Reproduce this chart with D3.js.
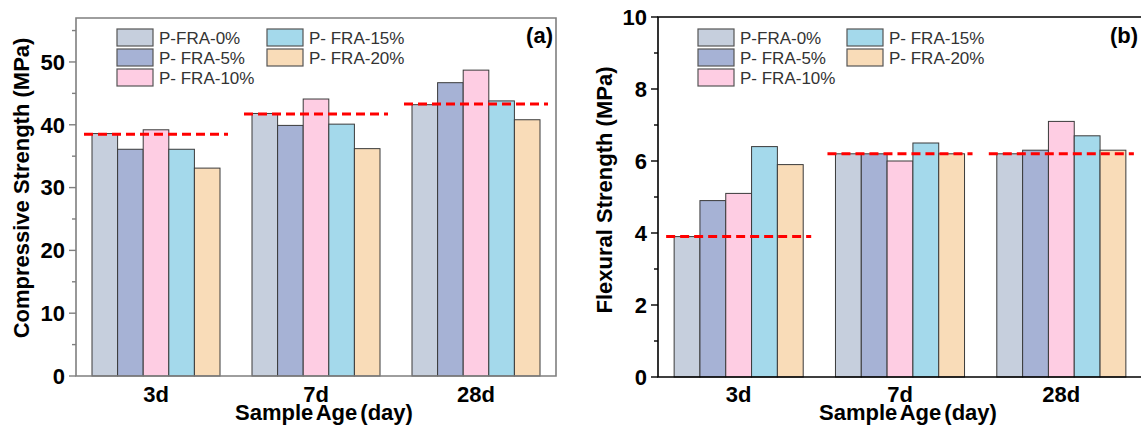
<!DOCTYPE html>
<html>
<head>
<meta charset="utf-8">
<script src="https://cdn.jsdelivr.net/npm/d3@7"></script>
<style>
  body { margin: 0; background: #fff; }
  svg text { font-family: Arial, "Liberation Sans", sans-serif; }
</style>
</head>
<body>
<div id="chart"></div>
<script>
// data
var ages = ["3d", "7d", "28d"];
var seriesNames = ["P-FRA-0%", "P- FRA-5%", "P- FRA-10%", "P- FRA-15%", "P- FRA-20%"];
var seriesColors = ["#c6cfdd", "#a6b2d5", "#fecde3", "#a4d9eb", "#f9dcb8"];

// compressive strength (MPa), one array per series, in age order
var compFRA0 = [38.6, 41.8, 43.2];
var compFRA5 = [36.1, 39.9, 46.7];
var compFRA10 = [39.2, 44.1, 48.7];
var compFRA15 = [36.1, 40.1, 43.8];
var compFRA20 = [33.1, 36.2, 40.8];
var compRef = [38.5, 41.7, 43.3];

// flexural strength (MPa)
var flexFRA0 = [3.9, 6.2, 6.2];
var flexFRA5 = [4.9, 6.2, 6.3];
var flexFRA10 = [5.1, 6.0, 7.1];
var flexFRA15 = [6.4, 6.5, 6.7];
var flexFRA20 = [5.9, 6.2, 6.3];
var flexRef = [3.9, 6.2, 6.2];

var compTicks = [0, 10, 20, 30, 40, 50];
var flexTicks = [0, 2, 4, 6, 8, 10];

var svg = d3.select("#chart")
  .append("svg")
  .attr("width", 1141)
  .attr("height", 429);

function drawPanel(opt) {
  var x0 = opt.left, x1 = opt.right, yTop = opt.top, yBot = opt.bottom;

  var xScale = d3.scaleBand()
    .domain(ages)
    .range([x0, x1])
    .paddingInner(0.2)
    .paddingOuter(0.1);

  var xSub = d3.scaleBand()
    .domain(seriesNames)
    .range([0, xScale.bandwidth()]);

  var yScale = d3.scaleLinear()
    .domain(opt.domain)
    .range([yBot, yTop]);

  var g = svg.append("g");

  // bars
  var groups = g.selectAll(".grp")
    .data(ages)
    .enter()
    .append("g")
    .attr("transform", d => `translate(${xScale(d)},0)`);

  groups.selectAll("rect")
    .data((d, i) => seriesNames.map((s, j) => ({ name: s, value: opt.values[j][i], idx: j })))
    .enter()
    .append("rect")
    .attr("x", d => xSub(d.name))
    .attr("y", d => yScale(d.value))
    .attr("width", xSub.bandwidth())
    .attr("height", d => yBot - yScale(d.value))
    .attr("fill", d => seriesColors[d.idx])
    .attr("stroke", "#3a3a3a")
    .attr("stroke-width", 1);

  // red dashed reference lines
  g.selectAll(".ref")
    .data(ages)
    .enter()
    .append("line")
    .attr("x1", d => xScale(d) - 8)
    .attr("x2", d => xScale(d) + xScale.bandwidth() + 8)
    .attr("y1", (d, i) => yScale(opt.ref[i]))
    .attr("y2", (d, i) => yScale(opt.ref[i]))
    .attr("stroke", "#ff0000")
    .attr("stroke-width", 3)
    .attr("stroke-dasharray", "9,5");

  // frame
  g.append("path")
    .attr("d", `M${x0},${yBot}V${yTop}H${x1}V${yBot}Z`)
    .attr("fill", "none")
    .attr("stroke", opt.frameColor)
    .attr("stroke-width", 1.6);

  // y axis ticks
  var minor = d3.range(opt.domain[0], opt.domain[1] + 0.001, opt.minorStep)
    .filter(v => opt.ticks.indexOf(v) < 0);
  g.selectAll(".minor")
    .data(minor)
    .enter()
    .append("line")
    .attr("x1", x0 - 4).attr("x2", x0)
    .attr("y1", d => yScale(d)).attr("y2", d => yScale(d))
    .attr("stroke", opt.frameColor)
    .attr("stroke-width", 1.4);

  g.selectAll(".major")
    .data(opt.ticks)
    .enter()
    .append("line")
    .attr("x1", x0 - 7).attr("x2", x0)
    .attr("y1", d => yScale(d)).attr("y2", d => yScale(d))
    .attr("stroke", opt.frameColor)
    .attr("stroke-width", 1.4);

  g.selectAll(".ylab")
    .data(opt.ticks)
    .enter()
    .append("text")
    .attr("x", x0 - 11)
    .attr("y", d => yScale(d))
    .attr("dy", "0.36em")
    .attr("text-anchor", "end")
    .attr("font-size", 22)
    .attr("font-weight", "bold")
    .text(d => d);

  // x labels
  g.selectAll(".xlab")
    .data(ages)
    .enter()
    .append("text")
    .attr("x", d => xScale(d) + xScale.bandwidth() / 2)
    .attr("y", 402)
    .attr("text-anchor", "middle")
    .attr("font-size", 22)
    .attr("font-weight", "bold")
    .text(d => d);

  // axis titles
  g.append("text")
    .attr("x", (x0 + x1) / 2 + 8)
    .attr("y", 420)
    .attr("text-anchor", "middle")
    .attr("font-size", 22)
    .attr("font-weight", "bold")
    .attr("word-spacing", -3)
    .text("Sample Age (day)");

  g.append("text")
    .attr("transform", `translate(${opt.yTitleX},${opt.yTitleY}) rotate(-90)`)
    .attr("text-anchor", "middle")
    .attr("dy", "0.35em")
    .attr("font-size", 22)
    .attr("font-weight", "bold")
    .text(opt.yTitle);

  // panel letter
  g.append("text")
    .attr("x", opt.letterX)
    .attr("y", 43)
    .attr("text-anchor", "end")
    .attr("font-size", 22)
    .attr("font-weight", "bold")
    .text(opt.letter);

  // legend
  var cols = [[0, 1, 2], [3, 4]];
  cols.forEach(function(col, c) {
    col.forEach(function(si, r) {
      var lx = x0 + opt.legendX[c];
      var ly = 29 + r * 20;
      g.append("rect")
        .attr("x", lx).attr("y", ly)
        .attr("width", 36).attr("height", 17)
        .attr("fill", seriesColors[si])
        .attr("stroke", "#555")
        .attr("stroke-width", 1.2);
      g.append("text")
        .attr("x", lx + 42)
        .attr("y", ly + 8.5)
        .attr("dy", "0.36em")
        .attr("font-size", 17)
        .attr("fill", "#333")
        .text(seriesNames[si]);
    });
  });
}

drawPanel({
  left: 76, right: 556, top: 18, bottom: 376,
  domain: [0, 57], ticks: compTicks, minorStep: 5,
  values: [compFRA0, compFRA5, compFRA10, compFRA15, compFRA20],
  ref: compRef,
  frameColor: "#7f7f7f",
  yTitle: "Compressive Strength (MPa)", yTitleX: 21, yTitleY: 188,
  letter: "(a)", letterX: 553,
  legendX: [41, 191]
});

drawPanel({
  left: 658, right: 1142, top: 17, bottom: 377,
  domain: [0, 10], ticks: flexTicks, minorStep: 1,
  values: [flexFRA0, flexFRA5, flexFRA10, flexFRA15, flexFRA20],
  ref: flexRef,
  frameColor: "#000",
  yTitle: "Flexural Strength (MPa)", yTitleX: 604, yTitleY: 190,
  letter: "(b)", letterX: 1138,
  legendX: [40, 189]
});
</script>
</body>
</html>
